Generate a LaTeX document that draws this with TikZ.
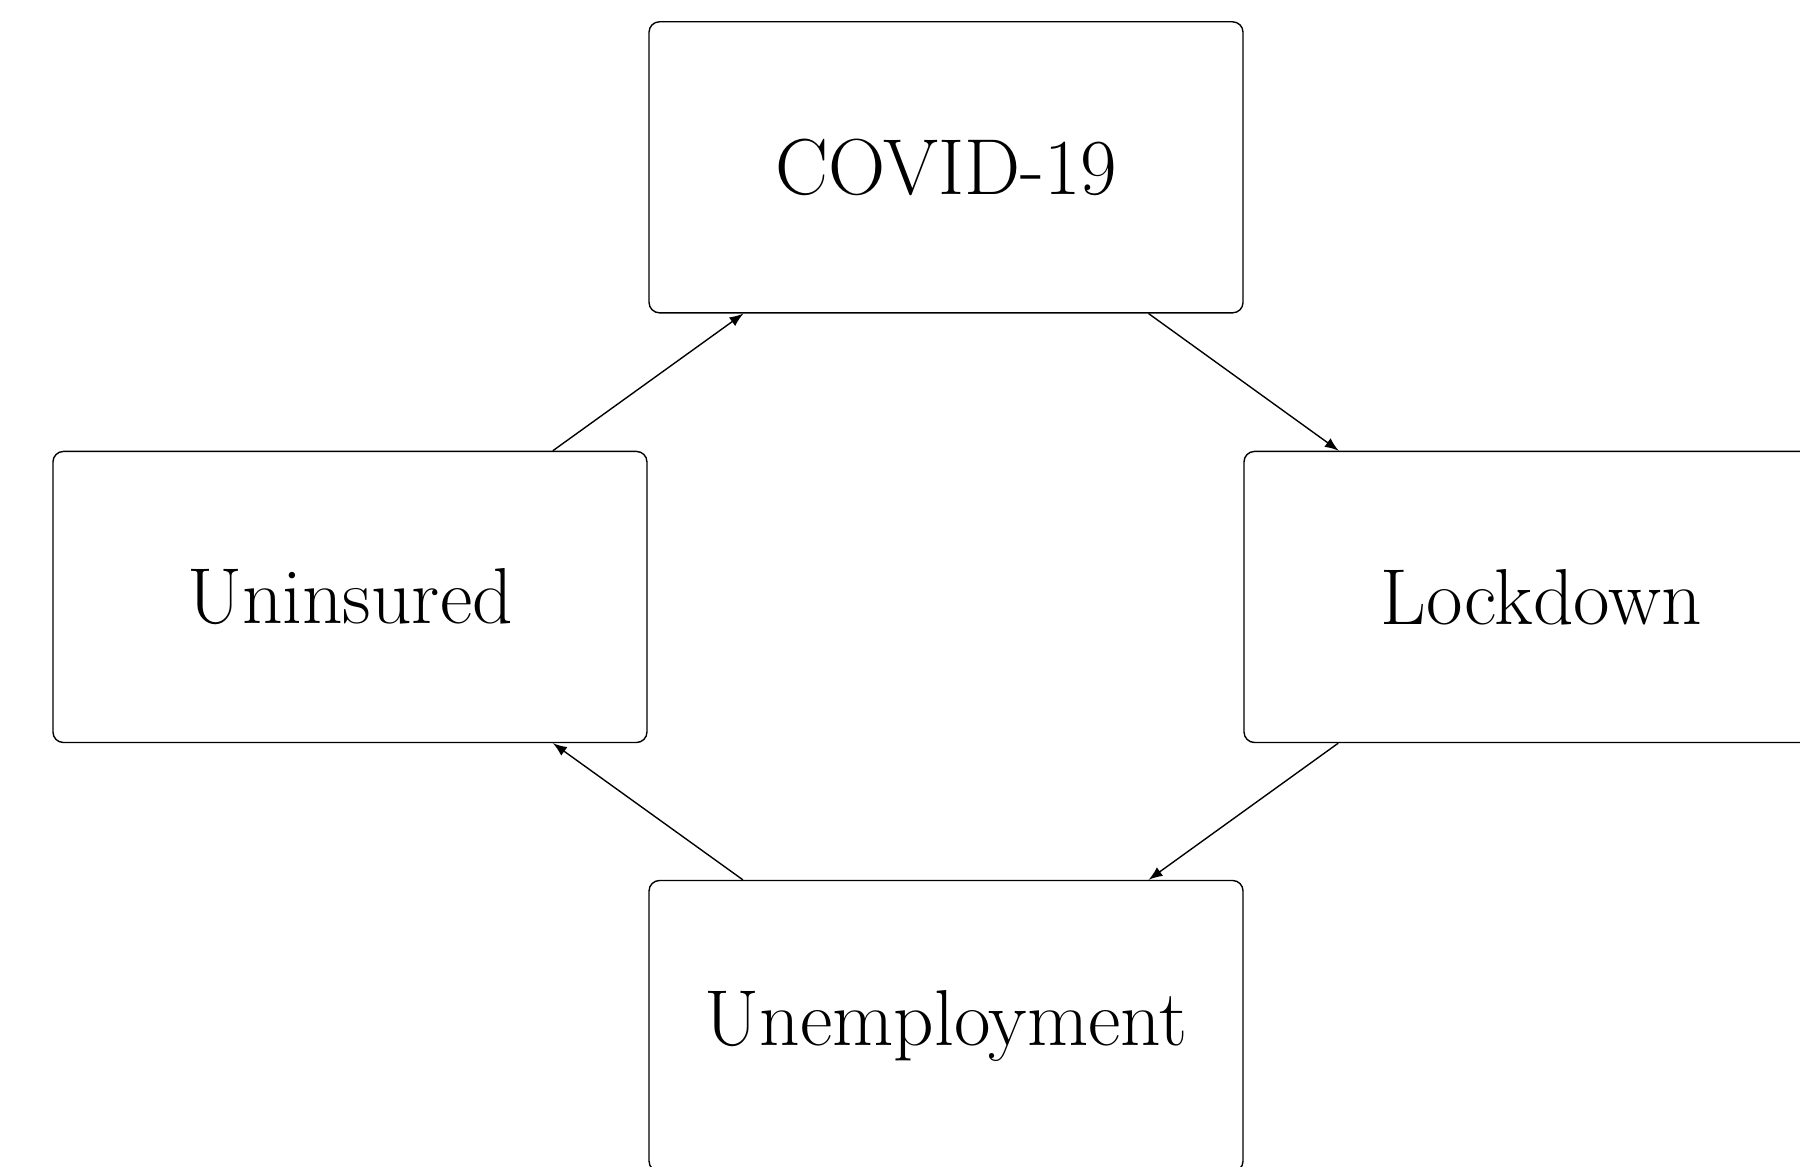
\documentclass[tikz,border=0pt]{standalone}
\usetikzlibrary{arrows}
\begin{document}
\begin{tikzpicture}[
  box/.style={draw, rounded corners=3pt, minimum width=6cm, minimum height=2.94cm, inner sep=0pt, font=\fontsize{22.8}{27}\selectfont},
  conn/.style={-latex}
]
\useasboundingbox (0,0) rectangle (18.182,-11.788);
\node[box] (covid) at (9.556,-1.69) {COVID-19};
\node[box] (unins) at (3.535,-6.03) {Uninsured};
\node[box] (lock) at (15.566,-6.03) {Lockdown};
\node[box] (unemp) at (9.556,-10.364) {Unemployment};
\draw[conn] (covid) -- (lock);
\draw[conn] (lock) -- (unemp);
\draw[conn] (unemp) -- (unins);
\draw[conn] (unins) -- (covid);
\end{tikzpicture}
\end{document}
